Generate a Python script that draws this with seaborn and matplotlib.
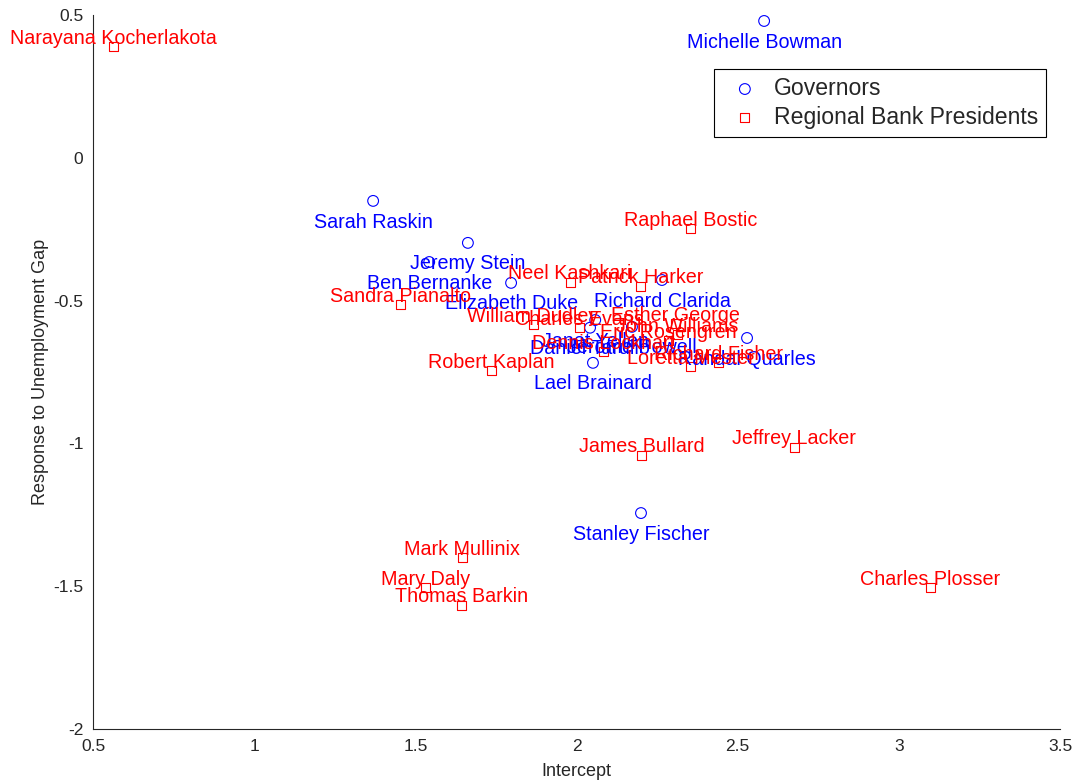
import numpy as np
import pandas as pd
import matplotlib
matplotlib.use("Agg")
import matplotlib.pyplot as plt
from matplotlib.ticker import FuncFormatter
import seaborn as sns

# Board of Governors
gov_names = ["Michelle Bowman", "Sarah Raskin", "Jeremy Stein", "Ben Bernanke",
             "Elizabeth Duke", "Richard Clarida", "Janet Yellen", "Daniel Tarullo",
             "Jerome Powell", "Randal Quarles", "Lael Brainard", "Stanley Fischer"]
gov_intercept = [2.582, 1.369, 1.663, 1.543, 1.797, 2.265, 2.058, 2.042,
                 2.172, 2.529, 2.051, 2.200]
gov_response = [0.479, -0.151, -0.298, -0.365, -0.438, -0.428, -0.568, -0.595,
                -0.592, -0.631, -0.718, -1.244]

# Regional Reserve Bank presidents
pres_names = ["Narayana Kocherlakota", "Raphael Bostic", "Neel Kashkari", "Patrick Harker",
              "Sandra Pianalto", "William Dudley", "Charles Evans", "Esther George",
              "John Williams", "Eric Rosengren", "Dennis Lockhart", "Loretta Mester",
              "Richard Fisher", "Robert Kaplan", "James Bullard", "Jeffrey Lacker",
              "Mark Mullinix", "Mary Daly", "Thomas Barkin", "Charles Plosser"]
pres_intercept = [0.562, 2.355, 1.980, 2.200, 1.453, 1.865, 2.008, 2.306,
                  2.312, 2.284, 2.085, 2.355, 2.439, 1.735, 2.203, 2.675,
                  1.645, 1.533, 1.642, 3.097]
pres_response = [0.388, -0.249, -0.435, -0.449, -0.515, -0.585, -0.596, -0.582,
                 -0.620, -0.641, -0.680, -0.732, -0.718, -0.746, -1.041, -1.013,
                 -1.401, -1.506, -1.566, -1.506]

x_ticks = [0.5, 1.0, 1.5, 2.0, 2.5, 3.0, 3.5]
y_ticks = [-2.0, -1.5, -1.0, -0.5, 0.0, 0.5]

gov = pd.DataFrame({"name": gov_names, "Intercept": gov_intercept,
                    "Response": gov_response, "group": "Governors"})
pres = pd.DataFrame({"name": pres_names, "Intercept": pres_intercept,
                     "Response": pres_response, "group": "Regional Bank Presidents"})

sns.set_style("white")
plt.rcParams["font.family"] = ["Liberation Sans", "DejaVu Sans"]
plt.rcParams["axes.unicode_minus"] = False

fig = plt.figure(figsize=(10.73, 7.84), dpi=100)
ax = fig.add_axes([0.0867, 0.0702, 0.9012, 0.9107])

BLUE = (0, 0, 1)
RED = (1, 0, 0)

sns.scatterplot(data=gov, x="Intercept", y="Response", ax=ax, marker="o", s=60,
                color=BLUE, facecolor="none", edgecolor=BLUE, linewidth=0.8,
                label="Governors", zorder=3)
sns.scatterplot(data=pres, x="Intercept", y="Response", ax=ax, marker="s", s=42,
                color=RED, facecolor="none", edgecolor=RED, linewidth=0.8,
                label="Regional Bank Presidents", zorder=3)

# Governor names sit below their markers, presidents' names above
for _, r in gov.iterrows():
    ax.annotate(r["name"], (r["Intercept"], r["Response"]), xytext=(0, -15.2),
                textcoords="offset points", ha="center", va="center",
                color=BLUE, fontsize=14.2, zorder=4)
for _, r in pres.iterrows():
    ax.annotate(r["name"], (r["Intercept"], r["Response"]), xytext=(0, 6.0),
                textcoords="offset points", ha="center", va="center",
                color=RED, fontsize=14.2, zorder=4)

ax.set_xlim(0.5, 3.5)
ax.set_ylim(-2.0, 0.5)
ax.set_xticks(x_ticks)
ax.set_yticks(y_ticks)
fmt = FuncFormatter(lambda v, p: "%g" % v)
ax.xaxis.set_major_formatter(fmt)
ax.yaxis.set_major_formatter(fmt)
ax.tick_params(direction="in", length=5, width=0.8, colors="#262626",
               labelsize=12.5, pad=7)
for side in ("top", "right"):
    ax.spines[side].set_visible(False)
for side in ("left", "bottom"):
    ax.spines[side].set_color("#262626")
    ax.spines[side].set_linewidth(0.8)

ax.set_xlabel("Intercept", fontsize=13, color="#262626", labelpad=7)
ax.set_ylabel("Response to Unemployment Gap", fontsize=13, color="#262626", labelpad=3)

leg = ax.legend(loc="upper right", bbox_to_anchor=(1046 / 1073, 1 - 69 / 784),
                bbox_transform=fig.transFigure, borderaxespad=0, fontsize=16.6,
                fancybox=False, framealpha=1, edgecolor="black",
                handlelength=2.0, handletextpad=0.25, borderpad=0.35,
                labelspacing=0.25, markerscale=1.0)
leg.get_frame().set_linewidth(0.8)

fig.savefig("out.png", dpi=100)
